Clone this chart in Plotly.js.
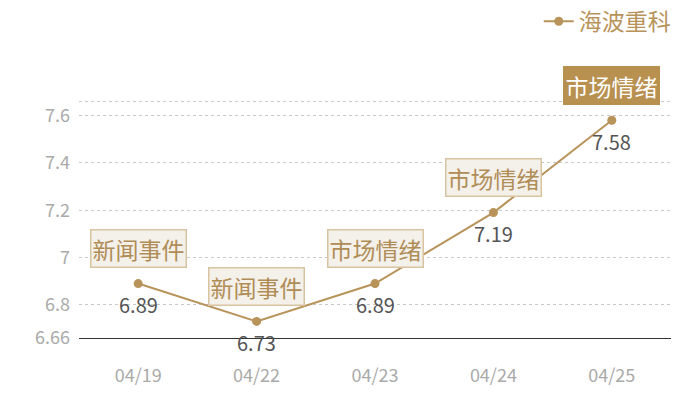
<!DOCTYPE html>
<html>
<head>
<meta charset="utf-8">
<script src="https://cdn.plot.ly/plotly-3.0.1.min.js"></script>
<style>
  html, body { margin: 0; padding: 0; background: #fff; }
  #chart { width: 700px; height: 400px; }
</style>
</head>
<body>
<div id="chart"></div>
<script>
const dates = ['04/19', '04/22', '04/23', '04/24', '04/25'];
const prices = [6.89, 6.73, 6.89, 7.19, 7.58];
const events = ['新闻事件', '新闻事件', '市场情绪', '市场情绪', '市场情绪'];
const seriesName = '海波重科';
const yTicks = [6.66, 6.8, 7, 7.2, 7.4, 7.6, 7.66];
const yTickText = ['6.66', '6.8', '7', '7.2', '7.4', '7.6', ''];

const gold = '#b8935a';
const font = 'Noto Sans CJK SC, Noto Sans, sans-serif';

const data = [{
  x: dates,
  y: prices,
  name: seriesName,
  mode: 'lines+markers',
  line: {width: 2, color: gold},
  marker: {size: 9, color: gold},
  cliponaxis: false
}];

const annotations = [];
dates.forEach((d, i) => {
  // value under the point
  annotations.push({
    x: d, y: prices[i], xref: 'x', yref: 'y',
    text: String(prices[i]),
    showarrow: false,
    yshift: -21,
    font: {family: font, size: 20, color: '#555'}
  });
  // event tag above the point
  const last = i === dates.length - 1;
  annotations.push({
    x: d, y: prices[i], xref: 'x', yref: 'y',
    text: events[i],
    showarrow: false,
    yshift: 35,
    bgcolor: last ? '#b8904f' : '#f4f0ea',
    bordercolor: last ? '#b8904f' : '#d8c4a0',
    borderwidth: 1.5,
    borderpad: 1,
    font: {family: font, size: 23, color: last ? '#fff' : '#b08d57'}
  });
});

const layout = {
  width: 700,
  height: 400,
  paper_bgcolor: '#fff',
  plot_bgcolor: '#fff',
  margin: {l: 79, r: 29, t: 99, b: 62, autoexpand: false},
  showlegend: true,
  legend: {
    orientation: 'h',
    x: 1.008, xanchor: 'right',
    y: 1.325, yanchor: 'middle',
    font: {family: font, size: 23, color: gold},
    itemwidth: 30
  },
  xaxis: {
    type: 'category',
    range: [-0.5, 4.5],
    showgrid: false,
    zeroline: false,
    showline: true,
    linecolor: '#333',
    linewidth: 1,
    ticks: '',
    ticklabelstandoff: 21,
    tickfont: {family: font, size: 18, color: '#aaa'}
  },
  yaxis: {
    range: [6.66, 7.67],
    tickvals: yTicks,
    ticktext: yTickText,
    showgrid: true,
    gridcolor: '#c8c8c8',
    griddash: 'dot',
    zeroline: false,
    showline: false,
    ticks: '',
    ticklabelstandoff: 8,
    tickfont: {family: font, size: 18, color: '#aaa'}
  },
  annotations
};

Plotly.newPlot('chart', data, layout, {displayModeBar: false});
</script>
</body>
</html>
